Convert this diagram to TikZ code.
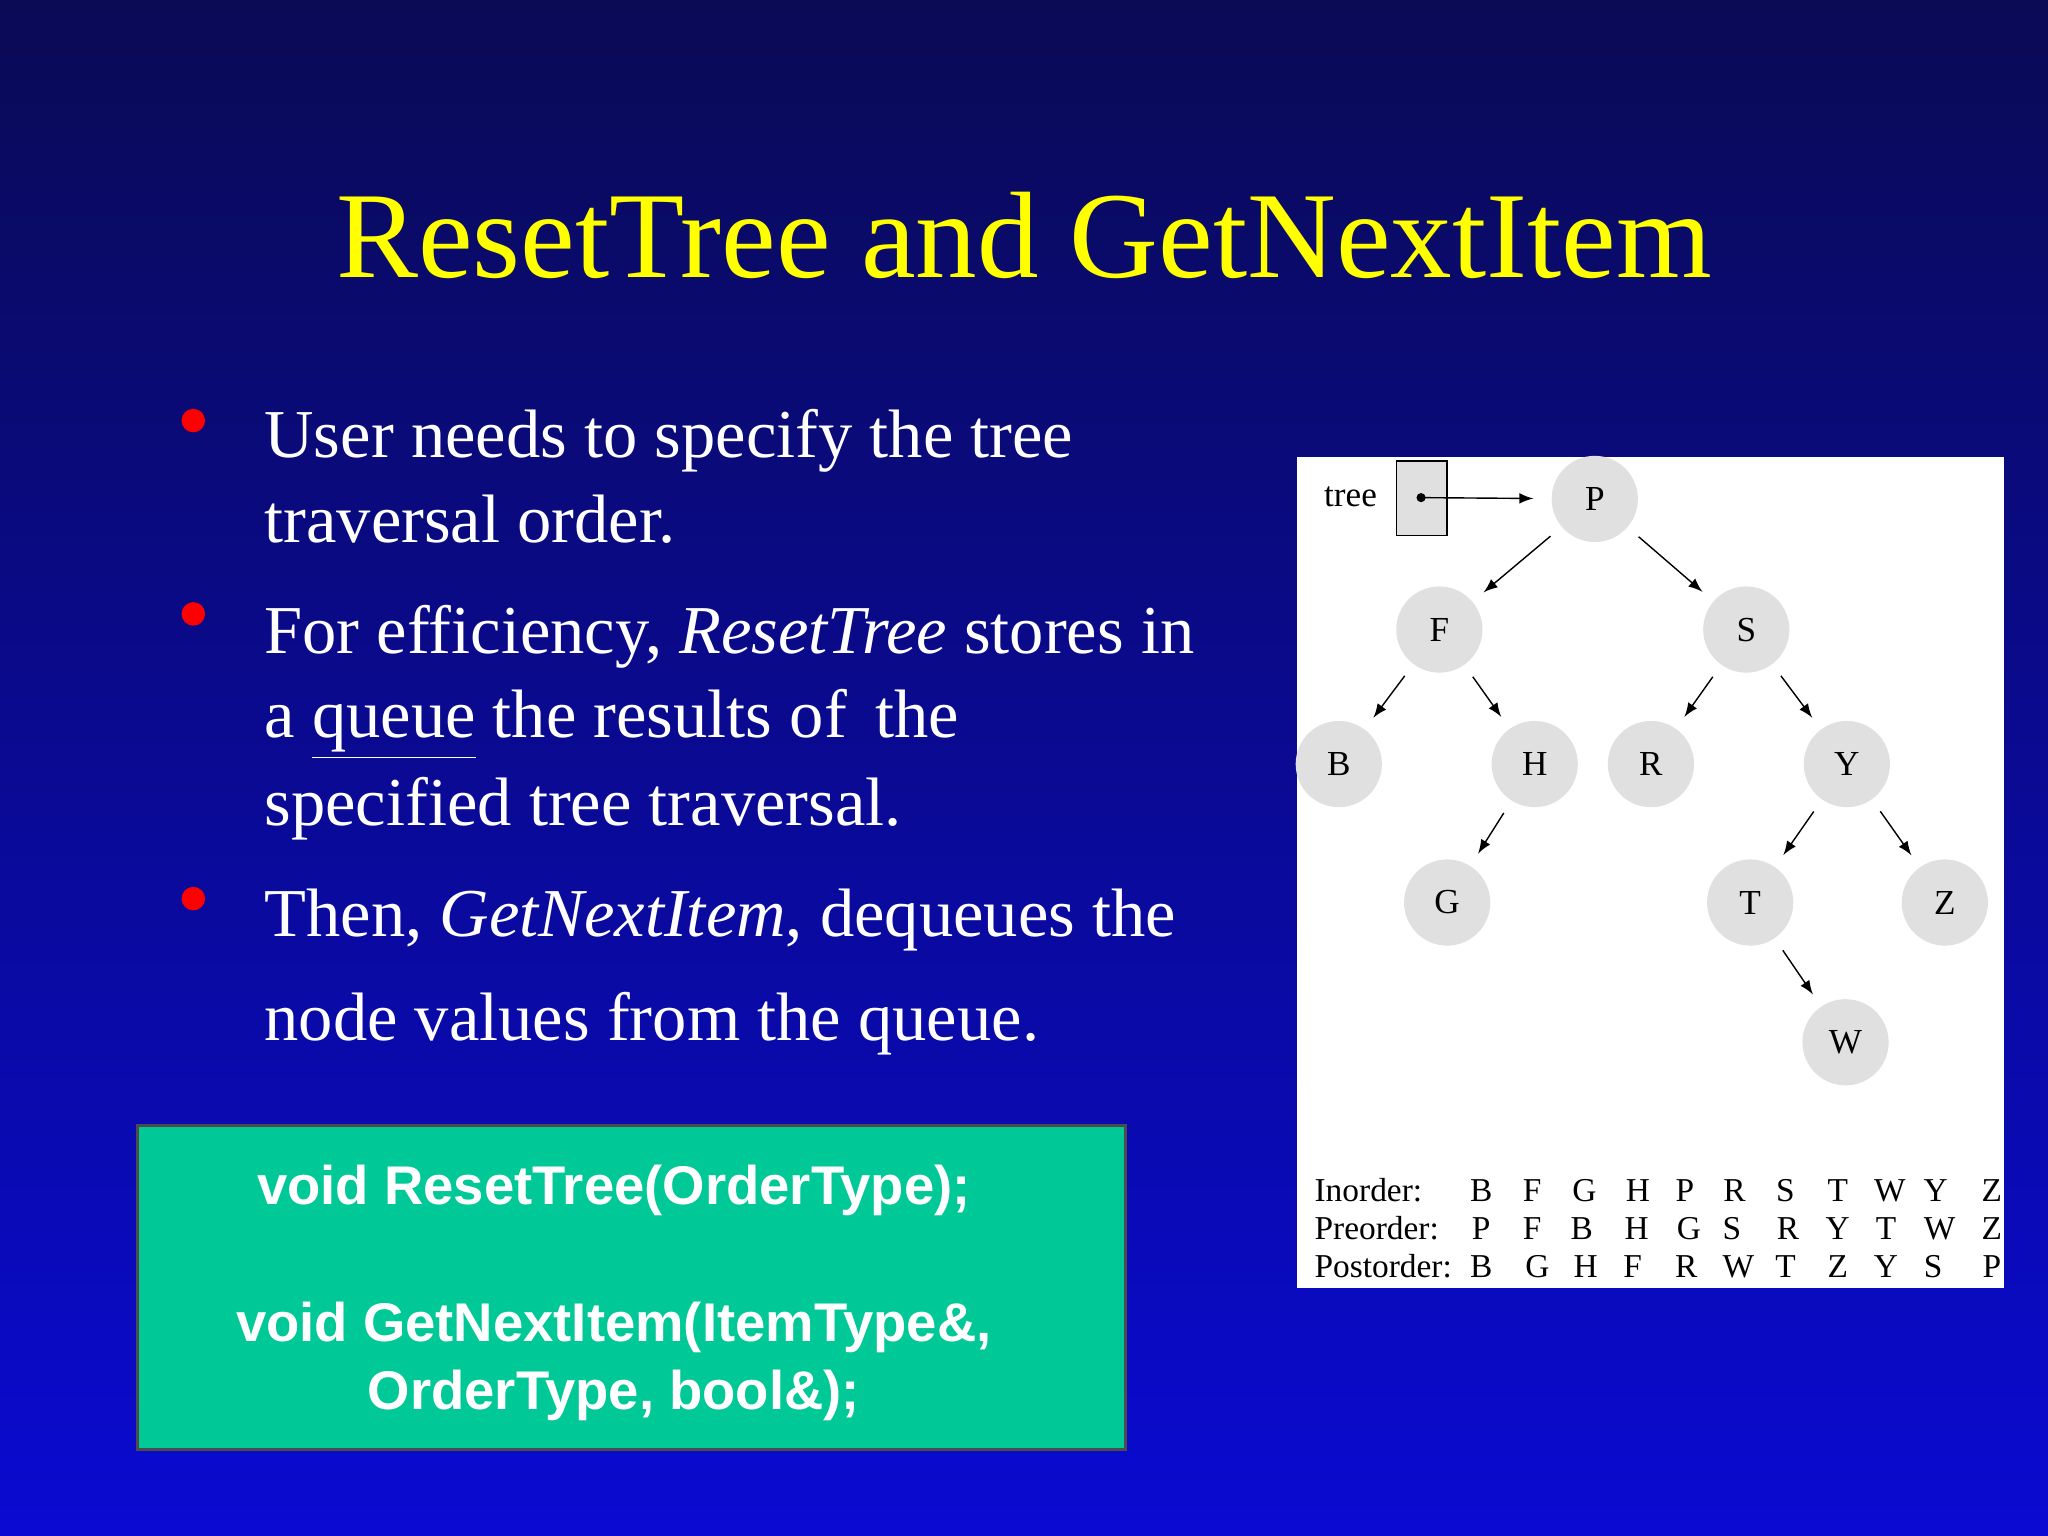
\documentclass[tikz,border=0pt]{standalone}
\usepackage{fontspec}
\setmainfont{Liberation Serif}
\setsansfont{Liberation Sans}
\definecolor{bgtop}{HTML}{0A0A55}
\definecolor{bgbot}{HTML}{0A0AD2}
\definecolor{titley}{HTML}{FFFF00}
\definecolor{boxgreen}{HTML}{00C896}
\definecolor{nodegray}{HTML}{E0E0E0}
\tikzset{
  tnode/.style={circle,fill=nodegray,minimum size=66*0.013061cm,inner sep=0pt,font=\fontsize{10}{12}\selectfont},
  tarr/.style={-latex,thin,shorten <=4pt,shorten >=4pt},
  bul/.style={anchor=base west,text=white,font=\fontsize{19.5}{23}\selectfont},
  tab/.style={anchor=base,font=\fontsize{9.5}{11}\selectfont},
}
\begin{document}
\begin{tikzpicture}[x=0.013061cm,y=-0.013061cm]
\useasboundingbox (0,0) rectangle (1568,1176);
\shade[top color=bgtop,bottom color=bgbot] (0,0) rectangle (1568,1176);
\node[text=titley,font=\fontsize{35}{40}\selectfont] (title) at (784,180) {ResetTree and GetNextItem};
% bullets
\foreach \y [count=\i] in {322,470,688}{\fill[red] (148,\y) circle (9);}
\node[bul] (l1) at (193,350) {User needs to specify the tree};
\node[bul] (l2) at (193,415) {traversal order.};
\node[bul] (l3) at (193,500) {For efficiency, \textit{ResetTree} stores in};
\node[bul] (l4) at (193,565) {a \underline{queue} the results of\, the};
\node[bul] (l5) at (193,632) {specified tree traversal.};
\node[bul] (l6) at (193,717) {Then, \textit{GetNextItem}, dequeues the};
\node[bul] (l7) at (193,797) {node values from the queue.};
% green box
\draw[fill=boxgreen,draw=black!70,thick] (105,862) rectangle (862,1110);
\node[text=white,font=\sffamily\bfseries\fontsize{15.5}{18}\selectfont,anchor=base] (c1) at (470,922) {void ResetTree(OrderType);};
\node[text=white,font=\sffamily\bfseries\fontsize{15.5}{18}\selectfont,anchor=base] (c2) at (470,1027) {void GetNextItem(ItemType\&,};
\node[text=white,font=\sffamily\bfseries\fontsize{15.5}{18}\selectfont,anchor=base] (c3) at (470,1079) {OrderType, bool\&);};
% panel
\fill[white] (993,350) rectangle (1534,986);
\node[font=\fontsize{10}{12}\selectfont] (treelbl) at (1034,380) {tree};
\node[draw,fill=nodegray,minimum width=39*0.013061cm,minimum height=57*0.013061cm,inner sep=0pt] (tbox) at (1088.5,381.5) {};
\fill (1088,381) circle (3.5);
\coordinate (dot) at (1088,381);
\node[tnode] (P) at (1221,382) {P};
\node[tnode] (F) at (1102,482) {F};
\node[tnode] (S) at (1337,482) {S};
\node[tnode] (B) at (1025,585) {B};
\node[tnode] (H) at (1175,585) {H};
\node[tnode] (R) at (1264,585) {R};
\node[tnode] (Y) at (1414,585) {Y};
\node[tnode] (G) at (1108,691) {G};
\node[tnode] (T) at (1340,691) {T};
\node[tnode] (Z) at (1489,691) {Z};
\node[tnode] (W) at (1413,798) {W};
\draw[-latex,thin,shorten >=5pt] (dot) -- (P);
\foreach \a/\b in {P/F,P/S,F/B,F/H,S/R,S/Y,H/G,Y/T,Y/Z,T/W}{\draw[tarr] (\a) -- (\b);}
% table
\node[tab,anchor=base west] (r1) at (997,920) {Inorder:};
\node[tab,anchor=base west] (r2) at (997,949) {Preorder:};
\node[tab,anchor=base west] (r3) at (997,978) {Postorder:};
\foreach \x/\c in {1134/B,1173/F,1213/G,1254/H,1290/P,1328/R,1367/S,1407/T,1447/W,1482/Y,1525/Z}{\node[tab] at (\x,920) {\c};}
\foreach \x/\c in {1134/P,1173/F,1211/B,1253/H,1293/G,1326/S,1369/R,1407/Y,1444/T,1485/W,1525/Z}{\node[tab] at (\x,949) {\c};}
\foreach \x/\c in {1134/B,1177/G,1214/H,1250/F,1291/R,1331/W,1367/T,1407/Z,1444/Y,1480/S,1525/P}{\node[tab] at (\x,978) {\c};}
\end{tikzpicture}
\end{document}
